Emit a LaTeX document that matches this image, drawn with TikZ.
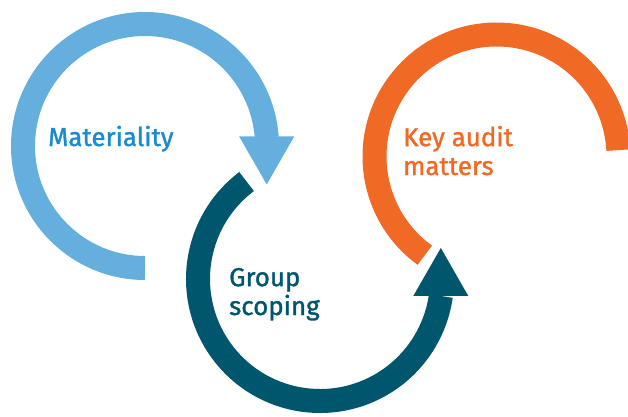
\documentclass[tikz,border=0pt]{standalone}
\usepackage{fontspec}
\setmainfont{Fira Sans}
\newfontfamily\ringfont{Fira Sans}[FakeBold=1.3]
\usepackage{tikz}
\usetikzlibrary{calc,positioning}
\definecolor{matblue}{HTML}{64AFDD}
\definecolor{mattext}{HTML}{1B8ACF}
\definecolor{grpteal}{HTML}{00566D}
\definecolor{kamorange}{HTML}{F06925}

\begin{document}
\begin{tikzpicture} [
  x = 1bp, y = 1bp,
  ring/.style = { line width = 24bp },
  ringtext/.style = { align = left, anchor = base west, inner sep = 0,
    font = \ringfont\fontsize{26}{29}\selectfont }
  ]
  \useasboundingbox (0,0) rectangle (628,416);

  % ring centres
  \coordinate (matC) at (145,270);
  \coordinate (grpC) at (320,137);
  \coordinate (kamC) at (496.5,259.5);

  % Materiality
  \draw[ring, matblue] ($(matC)+(270:122)$) arc[start angle=270, end angle=4, radius=122bp];
  \coordinate (matEnd) at ($(matC)+(4:122)+(0,1)$);
  \fill[matblue] (matEnd) ++(-27.5,0) -- ++(55,0) -- ++(-27.5,-48) -- cycle;

  % Group scoping
  \draw[ring, grpteal] ($(grpC)+(127:122)$) arc[start angle=127, end angle=352, radius=122bp];
  \coordinate (grpEnd) at ($(grpC)+(352:122)$);
  \fill[grpteal] (grpEnd) ++(-27.5,0) -- ++(55,0) -- ++(-27.5,48) -- cycle;

  % Key audit matters
  \draw[ring, kamorange] ($(kamC)+(234:122)$) arc[start angle=234, end angle=3, radius=122bp];

  % base anchor sits on the last line
  \node[ringtext, text = mattext] (mat) at (48,270) {Materiality};
  \node[ringtext, text = grpteal] (grp) at (229,101) {Group\\scoping};
  \node[ringtext, text = kamorange] (kam) at (403,241) {Key audit\\matters};
\end{tikzpicture}
\end{document}
